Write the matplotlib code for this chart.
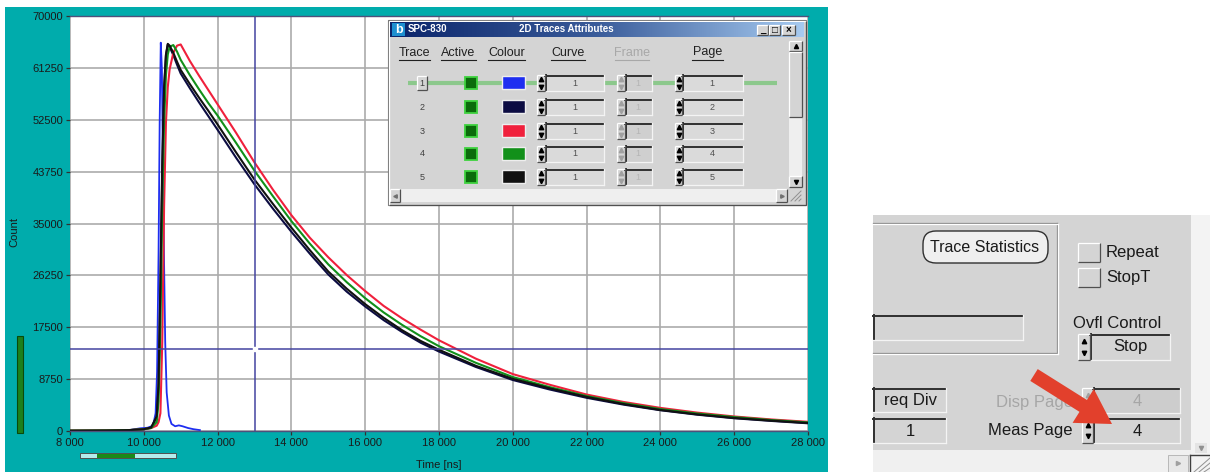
import matplotlib
matplotlib.use("Agg")
import numpy as np
import matplotlib.pyplot as plt
from matplotlib.patches import Rectangle, FancyArrow, FancyBboxPatch
from matplotlib.ticker import MultipleLocator, FuncFormatter

plt.rcParams['font.family'] = ['Liberation Sans', 'DejaVu Sans']

# ---- data ----
# trace 1 (blue, instrument response)
t_irf = [8000, 9000, 9600, 9900, 10100, 10250, 10320, 10360, 10400, 10430, 10460,
         10490, 10520, 10550, 10580, 10620, 10680, 10750, 10850, 10950, 11050,
         11200, 11350, 11520]
c_irf = [0, 50, 150, 450, 550, 900, 3000, 10000, 30000, 52000, 65500,
         61000, 44000, 28000, 15000, 6500, 2600, 1200, 800, 950, 800,
         500, 300, 150]

# decay traces 2..5 share one time axis
t_decay = [8000, 9000, 9600, 10000, 10200, 10350, 10400, 10450, 10500, 10550,
           10600, 10650, 10700, 10800, 10900, 11000, 11250, 11500, 11750, 12000,
           12500, 13000, 13500, 14000, 14500, 15000, 15500, 16000, 16500, 17000,
           17500, 18000, 19000, 20000, 21000, 22000, 23000, 24000, 25000, 26000,
           27000, 28000]
c_trace2 = [40, 70, 140, 280, 550, 2300, 7500, 24000, 44000, 57500,
            63300, 65200, 64800, 63400, 61800, 60300, 57800, 55400, 53100, 50800,
            46100, 41600, 37500, 33600, 29900, 26400, 23500, 21000, 18700, 16700,
            14900, 13400, 10800, 8600, 7000, 5600, 4450, 3500, 2750, 2150,
            1700, 1300]
c_trace3 = [50, 80, 150, 300, 500, 900, 1500, 3000, 15000, 38000,
            52000, 58000, 61000, 63800, 65000, 65200, 62400, 59900, 57500, 55100,
            50300, 45300, 40700, 36400, 32600, 29300, 26300, 23600, 21100, 19000,
            17100, 15300, 12200, 9600, 7800, 6150, 4900, 3900, 3100, 2450,
            1950, 1550]
c_trace4 = [60, 90, 160, 300, 500, 1500, 5000, 18000, 38000, 52000,
            60000, 63500, 64800, 65100, 64000, 62600, 60000, 57600, 55300, 53200,
            48600, 43900, 39600, 35400, 31600, 28100, 25100, 22400, 20000, 17900,
            16000, 14300, 11500, 9100, 7400, 5900, 4700, 3700, 2950, 2350,
            1850, 1450]
c_trace5 = [50, 80, 150, 300, 600, 2500, 8000, 25000, 45000, 58000,
            63500, 65300, 65000, 63800, 62300, 60900, 58500, 56200, 54000, 51700,
            47000, 42400, 38300, 34300, 30500, 26900, 24000, 21400, 19100, 17000,
            15200, 13700, 11000, 8800, 7200, 5750, 4550, 3550, 2800, 2200,
            1750, 1350]

trace_colors = ['#1E2EF0', '#0C0C42', '#F0203C', '#12901A', '#111111']
trace_pages = [1, 2, 3, 4, 5]
cursor_t = 13000
cursor_count = 13900

TEAL = '#00ACAC'
GRAY = '#D4D4D4'


def rect(a, x0, y0, x1, y1, fc, ec='none', lw=0.8, z=2):
    a.add_patch(Rectangle((x0, y0), x1 - x0, y1 - y0, fc=fc, ec=ec, lw=lw, zorder=z))


def bevel(a, x0, y0, x1, y1, raised=True, z=3, lw=0.9):
    hi, lo = ('white', '#505050') if raised else ('#303030', 'white')
    a.plot([x0, x1], [y0, y0], color=hi, lw=lw, zorder=z, solid_capstyle='butt')
    a.plot([x0, x0], [y0, y1], color=hi, lw=lw, zorder=z, solid_capstyle='butt')
    a.plot([x0, x1], [y1, y1], color=lo, lw=lw, zorder=z, solid_capstyle='butt')
    a.plot([x1, x1], [y0, y1], color=lo, lw=lw, zorder=z, solid_capstyle='butt')


def field(a, x0, y0, x1, y1, fc='#DADADA', z=3):
    rect(a, x0, y0, x1, y1, fc, z=z)
    a.plot([x0, x1], [y0 + 0.7, y0 + 0.7], color='#303030', lw=1.4, zorder=z + 1)
    a.plot([x0 + 0.7, x0 + 0.7], [y0, y1], color='#303030', lw=1.4, zorder=z + 1)
    a.plot([x0, x1], [y1, y1], color='#F4F4F4', lw=0.9, zorder=z + 1)
    a.plot([x1, x1], [y0, y1], color='#F4F4F4', lw=0.9, zorder=z + 1)


def spinner(a, x0, y0, x1, y1, col='black', z=4):
    rect(a, x0, y0, x1, y1, GRAY, z=z)
    bevel(a, x0, y0, x1, y1, z=z + 0.5)
    xm = (x0 + x1) / 2
    h = y1 - y0
    a.plot(xm, y0 + h * 0.28, marker='^', ms=3.2, color=col, zorder=z + 1)
    a.plot(xm, y0 + h * 0.72, marker='v', ms=3.2, color=col, zorder=z + 1)


fig = plt.figure(figsize=(12.1, 4.72), dpi=100)

# ---- background layer ----
bg = fig.add_axes([0, 0, 1, 1], zorder=0)
bg.set_xlim(0, 1210)
bg.set_ylim(472, 0)
bg.axis('off')
rect(bg, 5, 7, 828, 472, TEAL, z=1)
rect(bg, 17, 336, 23, 433, '#1C801C', ec='#0A4A0A', lw=0.8)
rect(bg, 80, 453, 176, 458, '#B4ECEC', ec='#505050', lw=0.7)
rect(bg, 97, 453.5, 135, 457.5, '#1A8A1A', z=3)

# ---- chart ----
ax = fig.add_axes([70 / 1210, 41 / 472, 738 / 1210, 415 / 472], zorder=1)
ax.set_facecolor('white')
ax.plot(t_irf, c_irf, color=trace_colors[0], lw=1.3)
for c, col in zip([c_trace2, c_trace3, c_trace4, c_trace5], trace_colors[1:]):
    ax.plot(t_decay, c, color=col, lw=1.5)
ax.axvline(cursor_t, color='#4444A0', lw=1.1)
ax.axhline(cursor_count, color='#4444A0', lw=1.1)
ax.plot(cursor_t, cursor_count, marker='s', ms=2.5, color='white', mec='white')

ax.set_xlim(8000, 28000)
ax.set_ylim(0, 70000)
ax.xaxis.set_major_locator(MultipleLocator(2000))
ax.yaxis.set_major_locator(MultipleLocator(8750))
ax.xaxis.set_major_formatter(FuncFormatter(lambda v, p: f"{int(v):,}".replace(",", " ")))
ax.yaxis.set_major_formatter(FuncFormatter(lambda v, p: f"{int(v)}"))
ax.grid(True, color='#ABABAB', lw=1.2)
ax.set_axisbelow(True)
ax.tick_params(labelsize=8, labelcolor='#1A1A1A', color='#303030', length=3, width=0.9, pad=2)
for s in ['left', 'right']:
    ax.spines[s].set_visible(False)
for s in ['top', 'bottom']:
    ax.spines[s].set_color('#50507A')
    ax.spines[s].set_linewidth(1.0)
ax.set_ylabel('Count', fontsize=8, color='#1A1A1A')
ax.yaxis.set_label_coords(-0.068, 0.48)
ax.set_xlabel('Time [ns]', fontsize=8, color='#1A1A1A')
ax.xaxis.set_label_coords(0.5, -0.07)

# ---- UI overlay ----
ui = fig.add_axes([0, 0, 1, 1], zorder=2)
ui.patch.set_alpha(0)
ui.axis('off')

# dialog window
rect(ui, 388, 20, 806, 205, GRAY, ec='#707070', lw=0.8, z=2)
bevel(ui, 388.5, 20.5, 805.5, 204.5, z=2.5)
grad = np.linspace(0, 1, 256).reshape(1, -1)
cmap = matplotlib.colors.LinearSegmentedColormap.from_list('tb', ['#0A246A', '#3A5C9A', '#A6CAF0'])
ui.imshow(grad, extent=(390, 804, 37, 22), aspect='auto', cmap=cmap, zorder=3)
rect(ui, 392, 23, 405, 36, '#1E90D0', z=4)
ui.text(398.5, 30, 'b', color='white', fontsize=9, fontweight='bold', ha='center', va='center', zorder=5)
ui.text(408, 29.5, 'SPC-830', color='white', fontsize=7, fontweight='bold', va='center', zorder=5)
ui.text(566, 29.5, '2D Traces Attributes', color='white', fontsize=7, fontweight='bold',
        ha='center', va='center', zorder=5)
for (x0, x1), sym in zip([(757, 768), (769, 780), (782, 795)], ['_', '□', '×']):
    rect(ui, x0, 24.5, x1, 35, GRAY, z=4)
    bevel(ui, x0, 24.5, x1, 35, z=4.5)
    ui.text((x0 + x1) / 2, 30, sym, fontsize=7, fontweight='bold', ha='center', va='center', zorder=5)

# column headers
headers = ['Trace', 'Active', 'Colour', 'Curve', 'Frame', 'Page']
hx = [414, 458.5, 506.5, 568, 632, 707.5]
hw = [31, 35, 37, 34, 34, 31]
for h, x, w in zip(headers, hx, hw):
    col = '#A8A8A8' if h == 'Frame' else '#202020'
    ui.text(x, 52.5, h, fontsize=9, color=col, ha='center', va='center', zorder=5)
    ui.plot([x - w / 2, x + w / 2], [60, 60], color=col, lw=0.8, zorder=5)

rows_y = [83, 107, 131, 154, 177]
ui.plot([408, 777], [83, 83], color='#8CC88C', lw=3, zorder=3, solid_capstyle='butt')
for i, y in enumerate(rows_y):
    if i == 0:
        rect(ui, 417, y - 7, 427, y + 7, GRAY, z=4)
        bevel(ui, 417, y - 7, 427, y + 7, z=4.5)
    ui.text(422, y, str(i + 1), fontsize=6.5, color='#404040', ha='center', va='center', zorder=5)
    rect(ui, 465, y - 6, 477, y + 6, '#0B6B0B', ec='#3ED23E', lw=1.3, z=4)
    rect(ui, 502, y - 7, 525, y + 6, trace_colors[i], ec='#EEEEEE', lw=1.0, z=4)
    spinner(ui, 537, y - 8, 545, y + 8)
    field(ui, 545, y - 8, 604, y + 8)
    ui.text(575, y, '1', fontsize=6.5, color='#505050', ha='center', va='center', zorder=5)
    spinner(ui, 617, y - 8, 625, y + 8, col='#A0A0A0')
    field(ui, 625, y - 8, 652, y + 8, fc='#CFCFCF')
    ui.text(638, y, '1', fontsize=6.5, color='#B4B4B4', ha='center', va='center', zorder=5)
    spinner(ui, 675, y - 8, 682, y + 8)
    field(ui, 682, y - 8, 743, y + 8)
    ui.text(712, y, str(trace_pages[i]), fontsize=6.5, color='#505050', ha='center', va='center', zorder=5)

# vertical scrollbar
rect(ui, 789, 41, 802, 187, '#EFEFEF', z=3)
for y0, y1, m in [(41, 51, '^'), (176, 187, 'v')]:
    rect(ui, 789, y0, 802, y1, GRAY, z=4)
    bevel(ui, 789, y0, 802, y1, z=4.5)
    ui.plot(795.5, (y0 + y1) / 2, marker=m, ms=3, color='black', zorder=5)
rect(ui, 789, 52, 802, 117, GRAY, z=4)
bevel(ui, 789, 52, 802, 117, z=4.5)

# horizontal scrollbar
rect(ui, 390, 189, 788, 202, '#EFEFEF', z=3)
for x0, x1, m in [(390, 400, '<'), (776, 787, '>')]:
    rect(ui, x0, 189, x1, 202, GRAY, z=4)
    bevel(ui, x0, 189, x1, 202, z=4.5)
    ui.plot((x0 + x1) / 2, 195.5, marker=m, ms=2.5, color='#707070', zorder=5)
rect(ui, 789, 189, 802, 202, GRAY, z=4)
for k in range(3):
    ui.plot([791 + 4 * k, 801], [201, 191 + 4 * k], color='#909090', lw=0.7, zorder=5)

# ---- right-hand control panel ----
rect(ui, 873, 215, 1191, 450, GRAY, z=2)
rect(ui, 873, 450, 1191, 472, '#F0F0F0', z=2)
rect(ui, 1191, 215, 1210, 472, '#F3F3F3', z=2)
for off, col in [(0, '#8A8A8A'), (1.2, 'white')]:
    ui.plot([873, 1057 + off], [223 + off, 223 + off], color=col, lw=0.9, zorder=3)
    ui.plot([1057 + off, 1057 + off], [223 + off, 353 + off], color=col, lw=0.9, zorder=3)
    ui.plot([873, 1057 + off], [353 + off, 353 + off], color=col, lw=0.9, zorder=3)

ui.add_patch(FancyBboxPatch((923, 231), 125, 32, boxstyle='round,pad=0,rounding_size=13',
                            fc='#EFEFEF', ec='#303030', lw=1.0, zorder=4))
ui.text(985, 247, 'Trace Statistics', fontsize=11.5, color='#1A1A1A', ha='center', va='center', zorder=5)

for y0, y1, lab in [(243, 262, 'Repeat'), (268, 287, 'StopT')]:
    rect(ui, 1078, y0, 1100, y1, GRAY, z=4)
    bevel(ui, 1078, y0, 1100, y1, z=4.5)
    ui.text(1106, (y0 + y1) / 2, lab, fontsize=12, color='#1A1A1A', va='center', zorder=5)

field(ui, 873, 315, 1023, 340, fc=GRAY)
ui.text(1073, 323.5, 'Ovfl Control', fontsize=12, color='#1A1A1A', va='center', zorder=5)
spinner(ui, 1078, 334, 1090, 360)
field(ui, 1090, 334, 1170, 360, fc=GRAY)
ui.text(1130, 347, 'Stop', fontsize=12, color='#1A1A1A', ha='center', va='center', zorder=6)

field(ui, 873, 388, 946, 412, fc=GRAY)
ui.text(910, 400, 'req Div', fontsize=12, color='#1A1A1A', ha='center', va='center', zorder=6)
field(ui, 873, 418, 946, 443, fc=GRAY)
ui.text(910, 431, '1', fontsize=12, color='#1A1A1A', ha='center', va='center', zorder=6)

ui.text(1073, 402, 'Disp Page', fontsize=12, color='#A6A6A6', ha='right', va='center', zorder=5)
spinner(ui, 1082, 388, 1093, 413, col='#A0A0A0')
field(ui, 1093, 388, 1180, 413, fc='#CDCDCD')
ui.text(1137, 401, '4', fontsize=12, color='#A6A6A6', ha='center', va='center', zorder=6)
ui.text(1073, 431, 'Meas Page', fontsize=12, color='#1A1A1A', ha='right', va='center', zorder=5)
spinner(ui, 1082, 418, 1093, 443)
field(ui, 1093, 418, 1180, 443, fc=GRAY)
ui.text(1137, 431, '4', fontsize=12, color='#1A1A1A', ha='center', va='center', zorder=6)

ui.add_patch(FancyArrow(1034, 375, 78, 49, width=14, head_width=40, head_length=34,
                        length_includes_head=True, fc='#E2402C', ec='none', zorder=8))

rect(ui, 1195, 443, 1207, 453, '#E4E4E4', z=4)
ui.plot(1201, 448, marker='v', ms=3, color='#909090', zorder=5)
rect(ui, 1168, 455, 1188, 472, '#E8E8E8', ec='#B0B0B0', lw=0.6, z=4)
ui.plot(1178, 463, marker='>', ms=3, color='#A0A0A0', zorder=5)
ui.plot([1190, 1190], [455, 472], color='#404040', lw=1.0, zorder=5)
ui.plot([1190, 1210], [455, 455], color='#404040', lw=1.0, zorder=5)
for k in range(3):
    ui.plot([1194 + 5 * k, 1210], [472, 458 + 5 * k], color='#909090', lw=0.7, zorder=5)

ui.set_xlim(0, 1210)
ui.set_ylim(472, 0)

fig.savefig('out.png', dpi=100)
